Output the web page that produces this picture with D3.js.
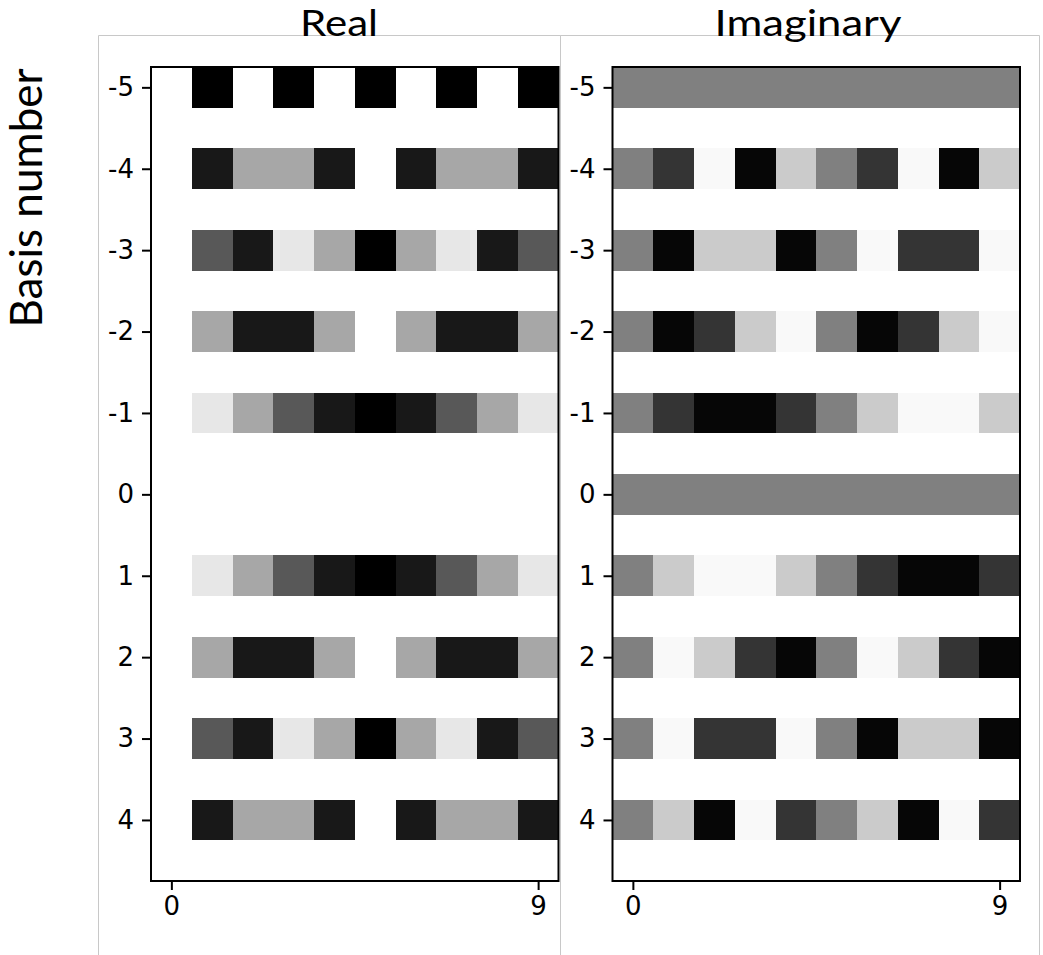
<!DOCTYPE html>
<html>
<head>
<meta charset="utf-8">
<style>
  body { margin: 0; background: #fff; }
  svg { display: block; }
  .axis text { font-family: "DejaVu Sans", sans-serif; fill: #000; }
  .axis line { stroke: #000; stroke-width: 2; }
  .slide-text { font-family: Lato, "Open Sans", sans-serif; fill: #000; }
</style>
<script src="https://cdn.jsdelivr.net/npm/d3@7.9.0/dist/d3.min.js"></script>
</head>
<body>
<svg id="chart" width="1043" height="955"></svg>
<script>
// rows = basis number k, columns = sample n
const basisNumbers = [-5, -4, -3, -2, -1, 0, 1, 2, 3, 4];
const sampleIndex = [0, 1, 2, 3, 4, 5, 6, 7, 8, 9];
const xTickValues = [0, 9];
const panelTitles = ["Real", "Imaginary"];
const yLabel = "Basis number";

// values (black = -1, white = +1)
const realValues = [
  [1, -1, 1, -1, 1, -1, 1, -1, 1, -1],
  [1, -0.81, 0.31, 0.31, -0.81, 1, -0.81, 0.31, 0.31, -0.81],
  [1, -0.31, -0.81, 0.81, 0.31, -1, 0.31, 0.81, -0.81, -0.31],
  [1, 0.31, -0.81, -0.81, 0.31, 1, 0.31, -0.81, -0.81, 0.31],
  [1, 0.81, 0.31, -0.31, -0.81, -1, -0.81, -0.31, 0.31, 0.81],
  [1, 1, 1, 1, 1, 1, 1, 1, 1, 1],
  [1, 0.81, 0.31, -0.31, -0.81, -1, -0.81, -0.31, 0.31, 0.81],
  [1, 0.31, -0.81, -0.81, 0.31, 1, 0.31, -0.81, -0.81, 0.31],
  [1, -0.31, -0.81, 0.81, 0.31, -1, 0.31, 0.81, -0.81, -0.31],
  [1, -0.81, 0.31, 0.31, -0.81, 1, -0.81, 0.31, 0.31, -0.81],
];

const imagValues = [
  [0, 0, 0, 0, 0, 0, 0, 0, 0, 0],
  [0, -0.59, 0.95, -0.95, 0.59, 0, -0.59, 0.95, -0.95, 0.59],
  [0, -0.95, 0.59, 0.59, -0.95, 0, 0.95, -0.59, -0.59, 0.95],
  [0, -0.95, -0.59, 0.59, 0.95, 0, -0.95, -0.59, 0.59, 0.95],
  [0, -0.59, -0.95, -0.95, -0.59, 0, 0.59, 0.95, 0.95, 0.59],
  [0, 0, 0, 0, 0, 0, 0, 0, 0, 0],
  [0, 0.59, 0.95, 0.95, 0.59, 0, -0.59, -0.95, -0.95, -0.59],
  [0, 0.95, 0.59, -0.59, -0.95, 0, 0.95, 0.59, -0.59, -0.95],
  [0, 0.95, -0.59, -0.59, 0.95, 0, -0.95, 0.59, 0.59, -0.95],
  [0, 0.59, -0.95, 0.95, -0.59, 0, 0.59, -0.95, 0.95, -0.59],
];

const svg = d3.select("#chart");
const grayScale = d3.scaleLinear().domain([-1, 1]).range(["#000", "#fff"]);

const plotTop = 67;
const plotBottom = 881;

const panels = [
  { title: panelTitles[0], values: realValues, left: 151, right: 558.5, boxLeft: 98.5, boxRight: 560.5, titleX: 339, titleW: 78 },
  { title: panelTitles[1], values: imagValues, left: 612.5, right: 1020, boxLeft: 560.5, boxRight: 1039.5, titleX: 808, titleW: 187 },
];

const y = d3.scaleLinear().domain([-5.25, 4.75]).range([plotTop, plotBottom]);

// light picture frames around each pasted figure
panels.forEach((p) => {
  svg.append("path")
    .attr("d", `M${p.boxLeft},960V35.5H${p.boxRight}V960`)
    .attr("fill", "none")
    .attr("stroke", "#c8c8c8")
    .attr("stroke-width", 1);
});

panels.forEach((p) => {
  const x = d3.scaleLinear().domain([-0.5, 9.5]).range([p.left, p.right]);
  const g = svg.append("g");

  const cells = p.values.flatMap((row, i) =>
    row.map((v, j) => ({ k: basisNumbers[i], n: sampleIndex[j], v }))
  );

  g.selectAll("rect.cell")
    .data(cells)
    .enter()
    .append("rect")
    .attr("class", "cell")
    .attr("x", (d) => x(d.n - 0.5))
    .attr("width", (d) => x(d.n + 0.5) - x(d.n - 0.5) + 0.5)
    .attr("y", (d) => y(d.k - 0.25))
    .attr("height", (d) => y(d.k + 0.25) - y(d.k - 0.25))
    .attr("fill", (d) => grayScale(d.v))
    .attr("shape-rendering", "crispEdges");

  g.append("g")
    .attr("class", "axis")
    .attr("transform", `translate(${p.left},0)`)
    .call(d3.axisLeft(y).tickValues(basisNumbers).tickFormat((d) => String(d)).tickSize(9).tickPadding(8))
    .call((a) => a.select(".domain").remove())
    .call((a) => a.selectAll("text").attr("font-size", 26).attr("font-family", null));

  g.append("g")
    .attr("class", "axis")
    .attr("transform", `translate(0,${plotBottom})`)
    .call(d3.axisBottom(x).tickValues(xTickValues).tickFormat((d) => String(d)).tickSize(9).tickPadding(7))
    .call((a) => a.select(".domain").remove())
    .call((a) => a.selectAll("text").attr("font-size", 26).attr("font-family", null));

  g.append("rect")
    .attr("x", p.left)
    .attr("y", plotTop)
    .attr("width", p.right - p.left)
    .attr("height", plotBottom - plotTop)
    .attr("fill", "none")
    .attr("stroke", "#000")
    .attr("stroke-width", 2);

  svg.append("text")
    .attr("class", "slide-text")
    .attr("x", p.titleX)
    .attr("y", 36)
    .attr("text-anchor", "middle")
    .attr("font-size", 36)
    .attr("textLength", p.titleW)
    .attr("lengthAdjust", "spacingAndGlyphs")
    .text(p.title);
});

svg.append("text")
  .attr("class", "slide-text")
  .attr("transform", "translate(42,198) rotate(-90)")
  .attr("text-anchor", "middle")
  .attr("font-size", 44)
  .text(yLabel);
</script>
</body>
</html>
